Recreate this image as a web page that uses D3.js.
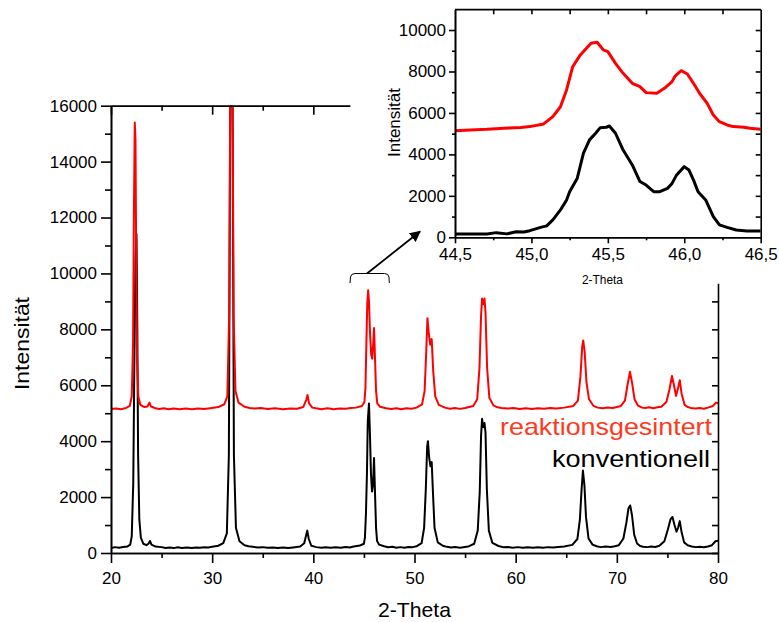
<!DOCTYPE html>
<html>
<head>
<meta charset="utf-8">
<script src="https://cdn.jsdelivr.net/npm/d3@7"></script>
<style>
  body { margin: 0; background: #fff; }
  svg { font-family: "Liberation Sans", Arial, sans-serif; }
  .axis text { font-size: 17px; fill: #000; }
  .axis path, .axis line { stroke: #000; stroke-width: 1.6px; }
</style>
</head>
<body>
<div id="chart-area"></div>
<script>
// XRD patterns: konventionell (black) vs. reaktionsgesintert (red), with zoom inset 44.5-46.5

// main pattern, konventionell  [2-Theta, Intensität]
var kvData = [
  [20.0,180],[20.4,210],[20.8,185],[21.2,215],[21.6,230],[21.9,300],[22.05,600],[22.2,2500],
  [22.3,6500],[22.42,10500],[22.52,11400],[22.6,8000],[22.68,3500],[22.8,1200],[22.95,550],
  [23.2,330],[23.5,280],[23.7,330],[23.85,430],[24.0,300],[24.4,230],[25.0,210],[25.4,180],
  [25.8,200],[26.2,175],[26.6,205],[27.0,180],[27.5,195],[28.0,175],[28.4,200],[28.8,185],
  [29.2,205],[29.6,195],[30.0,220],[30.6,260],[31.1,350],[31.45,700],
  [31.65,3500],[31.8,17500],[32.0,17500],[32.15,3500],[32.35,900],[32.7,420],[33.2,280],
  [33.6,240],[34.0,220],[34.5,195],[35.0,210],[35.5,185],[36.0,200],[36.5,175],[37.0,195],
  [37.5,180],[38.0,200],[38.7,230],[39.1,350],[39.3,650],
  [39.4,800],[39.55,500],[39.8,260],[40.3,210],[40.8,185],[41.2,205],[41.7,185],[42.2,205],
  [42.7,190],[43.2,215],[43.6,200],[44.0,230],
  [44.6,270],[45.0,330],[45.1,550],[45.2,1400],[45.3,2850],[45.38,4700],[45.5,5350],
  [45.6,4200],[45.7,2800],[45.8,2200],[45.9,2450],[46.0,3400],[46.1,2100],[46.2,900],
  [46.3,430],[46.5,300],[47.0,240],[47.4,205],[47.8,220],[48.2,190],[48.6,210],[49.0,190],
  [49.4,215],[49.8,210],[50.2,240],[50.7,350],
  [50.95,900],[51.12,2300],[51.25,3800],[51.33,4000],[51.45,3400],[51.58,3100],[51.7,3250],
  [51.82,2200],[51.98,900],[52.3,380],[52.8,260],[53.2,220],[53.6,200],[54.0,215],[54.5,190],
  [55.0,215],[55.3,230],[55.9,330],[56.25,800],[56.45,2200],[56.58,4200],[56.68,4800],
  [56.8,4500],[56.92,4650],[57.02,4300],[57.15,2300],[57.35,800],[57.7,360],[58.3,250],
  [58.8,205],[59.2,215],[59.7,190],[60.2,210],[60.7,185],[61.2,205],[61.7,185],[62.2,205],
  [62.7,190],[63.2,210],[63.7,195],[64.2,215],[64.8,230],[65.6,290],[66.1,500],[66.35,1200],
  [66.52,2300],[66.65,2950],[66.8,2400],[66.95,1300],[67.2,520],[67.6,300],[68.0,240],
  [68.4,210],[68.9,230],[69.4,215],[69.8,240],
  [70.2,280],[70.65,520],[70.95,1100],[71.15,1600],[71.32,1700],[71.5,1350],[71.72,650],
  [72.0,340],[72.3,250],[72.6,225],[73.0,210],[73.4,230],[73.8,215],[74.2,260],[74.7,420],
  [75.05,850],[75.3,1200],[75.5,1290],[75.7,1000],[75.9,760],[76.05,900],[76.22,1140],
  [76.4,750],[76.65,380],[77.0,280],[77.4,235],[77.8,210],[78.2,225],[78.6,205],[79.0,235],
  [79.4,280],[79.75,420],[80.0,440]
];

// main pattern, reaktionsgesintert
var rgData = [
  [20.0,5150],[20.5,5170],[21.0,5140],[21.5,5190],[21.85,5260],[22.05,5600],[22.18,7500],
  [22.26,12000],[22.35,15400],[22.42,14800],[22.5,10000],[22.58,6800],[22.7,5600],
  [22.9,5300],[23.3,5220],[23.6,5240],[23.8,5380],[23.95,5240],[24.4,5180],[24.8,5150],
  [25.2,5175],[25.7,5140],[26.2,5165],[26.8,5140],[27.4,5170],[28.0,5145],[28.6,5165],
  [29.2,5150],[29.8,5180],[30.6,5220],[31.2,5320],[31.5,5600],
  [31.68,8500],[31.8,17500],[32.0,17500],[32.12,8500],[32.3,5800],[32.6,5380],[33.2,5230],
  [33.7,5190],[34.2,5170],[34.8,5190],[35.5,5150],[36.2,5175],[37.0,5145],[37.7,5170],
  [38.4,5160],[39.0,5220],[39.3,5480],[39.42,5650],
  [39.58,5350],[39.9,5200],[40.4,5170],[40.8,5145],[41.4,5175],[42.0,5145],[42.6,5170],
  [43.2,5160],[43.7,5185],[44.2,5200],[44.8,5260],
  [45.05,5400],[45.15,5900],[45.25,7600],[45.33,8900],[45.42,9400],[45.5,9000],
  [45.6,7900],[45.72,7100],[45.82,6950],[45.92,7500],[46.0,8050],[46.1,6950],[46.2,5800],
  [46.32,5350],[46.6,5230],[47.2,5180],[47.7,5150],[48.2,5175],[48.7,5145],[49.2,5175],
  [49.7,5160],[50.2,5200],[50.75,5320],
  [51.0,5800],[51.15,7100],[51.28,8400],[51.4,7900],[51.55,7450],[51.7,7650],[51.85,6500],
  [52.05,5600],[52.4,5300],[53.0,5200],[53.5,5160],[54.0,5185],[54.5,5155],[55.0,5190],
  [55.8,5260],[56.2,5500],
  [56.42,6600],[56.58,8500],[56.68,9100],[56.8,8900],[56.92,9100],[57.02,8600],
  [57.18,6600],[57.4,5550],[57.8,5280],[58.2,5210],[58.6,5190],[59.2,5165],[59.8,5185],
  [60.4,5155],[61.0,5180],[61.6,5150],[62.2,5175],[62.8,5160],[63.4,5190],[64.0,5170],
  [64.8,5200],[65.7,5260],[66.15,5450],[66.4,6300],[66.58,7400],[66.68,7600],[66.82,7200],
  [67.0,6100],[67.25,5500],[67.7,5260],[68.1,5200],[68.6,5180],[69.1,5205],[69.6,5190],
  [70.4,5260],[70.8,5450],
  [71.05,6000],[71.3,6480],[71.5,6100],[71.75,5500],[72.1,5270],[72.5,5200],[72.8,5185],
  [73.2,5210],[73.6,5180],[74.0,5210],
  [74.4,5230],[74.9,5400],[75.2,5850],[75.45,6330],[75.65,6000],[75.85,5620],[76.05,5900],
  [76.22,6180],[76.4,5700],[76.7,5300],[77.0,5220],[77.3,5190],[77.8,5165],[78.2,5185],
  [78.6,5160],[79.0,5200],[79.5,5260],[79.8,5380],[80.0,5360]
];

// inset, konventionell
var insetKv = [
  [44.5,160],[44.6,165],[44.71,160],[44.77,225],[44.84,165],[44.9,270],[44.95,260],
  [44.99,320],[45.06,480],[45.1,550],[45.14,840],[45.19,1320],[45.23,1800],[45.25,2200],
  [45.3,2850],[45.34,4050],[45.38,4700],[45.42,5020],[45.45,5290],[45.49,5310],[45.51,5370],
  [45.55,5020],[45.6,4210],[45.66,3490],[45.71,2690],[45.75,2520],[45.8,2200],[45.84,2200],
  [45.89,2360],[45.92,2600],[45.95,3010],[46.0,3410],[46.03,3250],[46.06,2770],[46.09,2200],
  [46.14,1800],[46.19,1000],[46.23,600],[46.28,480],[46.34,350],[46.41,305],[46.5,305]
];

// inset, reaktionsgesintert
var insetRg = [
  [44.5,5146],[44.6,5180],[44.71,5210],[44.82,5260],[44.93,5300],[44.99,5340],[45.08,5470],
  [45.14,5820],[45.19,6300],[45.23,7110],[45.27,8230],[45.32,8800],[45.36,9120],[45.39,9360],
  [45.43,9410],[45.47,9040],[45.5,8960],[45.55,8390],[45.6,7910],[45.66,7430],[45.71,7270],
  [45.75,6980],[45.82,6950],[45.87,7190],[45.92,7510],[45.94,7780],[45.98,8040],[46.02,7880],
  [46.06,7430],[46.1,6950],[46.15,6460],[46.19,5900],[46.23,5580],[46.28,5420],[46.32,5340],
  [46.39,5310],[46.43,5260],[46.5,5210]
];

var xTicksMain = [20, 30, 40, 50, 60, 70, 80];
var xMinorMain = [25, 35, 45, 55, 65, 75];
var yTicksMain = [0, 2000, 4000, 6000, 8000, 10000, 12000, 14000, 16000];
var xTicksInset = [44.5, 45.0, 45.5, 46.0, 46.5];
var yTicksInset = [0, 2000, 4000, 6000, 8000, 10000];

var seriesNames = ['reaktionsgesintert', 'konventionell'];
var seriesColor = { reaktionsgesintert: '#ff0000', konventionell: '#000000' };
var labelColor = { reaktionsgesintert: '#ff3a1c', konventionell: '#000000' };

var outerWidth = 779;
var outerHeight = 622;

var svg = d3.select('#chart-area').append('svg')
            .attr('width', outerWidth)
            .attr('height', outerHeight);

// ---------- main chart ----------
var xScale = d3.scaleLinear().domain([20, 80]).range([111, 718]);
var yScale = d3.scaleLinear().domain([0, 16000]).range([553, 105.7]);

svg.append('clipPath').attr('id', 'clipMain')
   .append('rect')
   .attr('x', xScale(20)).attr('y', yScale(16000))
   .attr('width', xScale(80) - xScale(20))
   .attr('height', yScale(0) - yScale(16000));

var line = d3.line()
             .x(function(d){ return xScale(d[0]); })
             .y(function(d){ return yScale(d[1]); });

var mainG = svg.append('g').attr('clip-path', 'url(#clipMain)');
mainG.append('path').datum(kvData)
     .attr('fill', 'none').attr('stroke', seriesColor.konventionell)
     .attr('stroke-width', 2).attr('stroke-linejoin', 'round')
     .attr('d', line);
mainG.append('path').datum(rgData)
     .attr('fill', 'none').attr('stroke', seriesColor.reaktionsgesintert)
     .attr('stroke-width', 2).attr('stroke-linejoin', 'round')
     .attr('d', line);

// bottom axis
svg.append('g').attr('class', 'axis')
   .attr('transform', 'translate(0,' + yScale(0) + ')')
   .call(d3.axisBottom(xScale).tickValues(xTicksMain).tickSize(10).tickSizeOuter(0).tickPadding(9));
svg.append('g').attr('class', 'axis')
   .attr('transform', 'translate(0,' + yScale(0) + ')')
   .call(d3.axisBottom(xScale).tickValues(xMinorMain).tickSize(5).tickSizeOuter(0).tickFormat(''));

// left axis
svg.append('g').attr('class', 'axis')
   .attr('transform', 'translate(' + xScale(20) + ',0)')
   .call(d3.axisLeft(yScale).tickValues(yTicksMain).tickSize(10).tickSizeOuter(0).tickPadding(4)
           .tickFormat(d3.format('d')));
svg.append('g').attr('class', 'axis')
   .attr('transform', 'translate(' + xScale(20) + ',0)')
   .call(d3.axisLeft(yScale).tickValues(d3.range(1000, 16000, 2000)).tickSize(6).tickSizeOuter(0).tickFormat(''));

// partial top axis (20 .. ~43.6)
var xTop = d3.scaleLinear().domain([20, 43.6]).range([xScale(20), xScale(43.6)]);
svg.append('g').attr('class', 'axis')
   .attr('transform', 'translate(0,' + yScale(16000) + ')')
   .call(d3.axisTop(xTop).tickValues([20, 30, 40]).tickSize(-9).tickSizeOuter(0).tickFormat(''));
svg.append('g').attr('class', 'axis')
   .attr('transform', 'translate(0,' + yScale(16000) + ')')
   .call(d3.axisTop(xTop).tickValues([25, 35]).tickSize(-5).tickSizeOuter(0).tickFormat(''));

// partial right axis (0 .. ~9650)
var yRight = d3.scaleLinear().domain([0, 9650]).range([yScale(0), yScale(9650)]);
svg.append('g').attr('class', 'axis')
   .attr('transform', 'translate(' + xScale(80) + ',0)')
   .call(d3.axisRight(yRight).tickValues(d3.range(0, 9001, 1000)).tickSize(-6).tickSizeOuter(0).tickFormat(''));

svg.append('text')
   .attr('transform', 'translate(29,343.5) rotate(-90)')
   .attr('text-anchor', 'middle')
   .attr('font-size', '21px')
   .attr('textLength', 93).attr('lengthAdjust', 'spacingAndGlyphs')
   .text('Intensität');

svg.append('text')
   .attr('x', 414.5).attr('y', 617)
   .attr('text-anchor', 'middle')
   .attr('font-size', '21px')
   .attr('textLength', 73).attr('lengthAdjust', 'spacingAndGlyphs')
   .text('2-Theta');

// series labels
var labelPos = { reaktionsgesintert: [712, 435, 212], konventionell: [710, 467, 158] };
seriesNames.forEach(function(name){
  svg.append('text')
     .attr('x', labelPos[name][0]).attr('y', labelPos[name][1])
     .attr('text-anchor', 'end')
     .attr('font-size', '24px')
     .attr('fill', labelColor[name])
     .attr('textLength', labelPos[name][2]).attr('lengthAdjust', 'spacingAndGlyphs')
     .text(name);
});

// bracket over 45-46 peaks + arrow to inset
svg.append('defs').append('marker')
   .attr('id', 'arrowHead')
   .attr('viewBox', '0 0 10 10').attr('refX', 9).attr('refY', 5)
   .attr('markerWidth', 11).attr('markerHeight', 11)
   .attr('markerUnits', 'userSpaceOnUse')
   .attr('orient', 'auto')
   .append('path').attr('d', 'M0,0 L10,5 L0,10 z').attr('fill', '#000');

svg.append('path')
   .attr('d', 'M350,283 L350.5,277 Q351,273.5 355,273.5 L384.5,273.5 Q388.5,273.5 389,277 L389.3,283')
   .attr('fill', 'none').attr('stroke', '#000').attr('stroke-width', 1);
svg.append('line')
   .attr('x1', 367).attr('y1', 273.5).attr('x2', 420).attr('y2', 231.5)
   .attr('stroke', '#000').attr('stroke-width', 1.8)
   .attr('marker-end', 'url(#arrowHead)');

// ---------- inset ----------
var xIn = d3.scaleLinear().domain([44.5, 46.5]).range([455, 760.7]);
var yIn = d3.scaleLinear().domain([0, 11000]).range([237.3, 9.3]);

svg.append('clipPath').attr('id', 'clipInset')
   .append('rect')
   .attr('x', xIn(44.5)).attr('y', yIn(11000))
   .attr('width', xIn(46.5) - xIn(44.5))
   .attr('height', yIn(0) - yIn(11000));

var lineIn = d3.line()
               .x(function(d){ return xIn(d[0]); })
               .y(function(d){ return yIn(d[1]); });

var insetG = svg.append('g').attr('clip-path', 'url(#clipInset)');
insetG.append('path').datum(insetRg)
      .attr('fill', 'none').attr('stroke', seriesColor.reaktionsgesintert)
      .attr('stroke-width', 3).attr('stroke-linejoin', 'round')
      .attr('d', lineIn);
insetG.append('path').datum(insetKv)
      .attr('fill', 'none').attr('stroke', seriesColor.konventionell)
      .attr('stroke-width', 3).attr('stroke-linejoin', 'round')
      .attr('d', lineIn);

var commaFormat = function(d){ return d3.format('.1f')(d).replace('.', ','); };

svg.append('g').attr('class', 'axis')
   .attr('transform', 'translate(0,' + yIn(0) + ')')
   .call(d3.axisBottom(xIn).tickValues(xTicksInset).tickSize(6).tickSizeOuter(0).tickPadding(5)
           .tickFormat(commaFormat));
svg.append('g').attr('class', 'axis')
   .attr('transform', 'translate(0,' + yIn(0) + ')')
   .call(d3.axisBottom(xIn).tickValues([44.75, 45.25, 45.75, 46.25]).tickSize(3).tickSizeOuter(0).tickFormat(''));
svg.append('g').attr('class', 'axis')
   .attr('transform', 'translate(0,' + yIn(11000) + ')')
   .call(d3.axisTop(xIn).tickValues(d3.range(44.75, 46.5, 0.25)).tickSize(-5).tickSizeOuter(0).tickFormat(''));

svg.append('g').attr('class', 'axis')
   .attr('transform', 'translate(' + xIn(44.5) + ',0)')
   .call(d3.axisLeft(yIn).tickValues(yTicksInset).tickSize(6).tickSizeOuter(0).tickPadding(3)
           .tickFormat(d3.format('d')));
svg.append('g').attr('class', 'axis')
   .attr('transform', 'translate(' + xIn(44.5) + ',0)')
   .call(d3.axisLeft(yIn).tickValues(d3.range(1000, 11000, 2000)).tickSize(3).tickSizeOuter(0).tickFormat(''));
svg.append('g').attr('class', 'axis')
   .attr('transform', 'translate(' + xIn(46.5) + ',0)')
   .call(d3.axisRight(yIn).tickValues(d3.range(1000, 11000, 1000)).tickSize(-5).tickSizeOuter(0).tickFormat(''));

// inset frame top line
svg.append('line')
   .attr('x1', xIn(44.5)).attr('x2', xIn(46.5))
   .attr('y1', yIn(11000)).attr('y2', yIn(11000))
   .attr('stroke', '#000').attr('stroke-width', 1.2);

svg.append('text')
   .attr('transform', 'translate(400,122.5) rotate(-90)')
   .attr('text-anchor', 'middle')
   .attr('font-size', '16px')
   .attr('textLength', 69).attr('lengthAdjust', 'spacingAndGlyphs')
   .text('Intensität');

svg.append('text')
   .attr('x', 602.5).attr('y', 284)
   .attr('text-anchor', 'middle')
   .attr('font-size', '12.5px')
   .attr('textLength', 41).attr('lengthAdjust', 'spacingAndGlyphs')
   .text('2-Theta');
</script>
</body>
</html>
